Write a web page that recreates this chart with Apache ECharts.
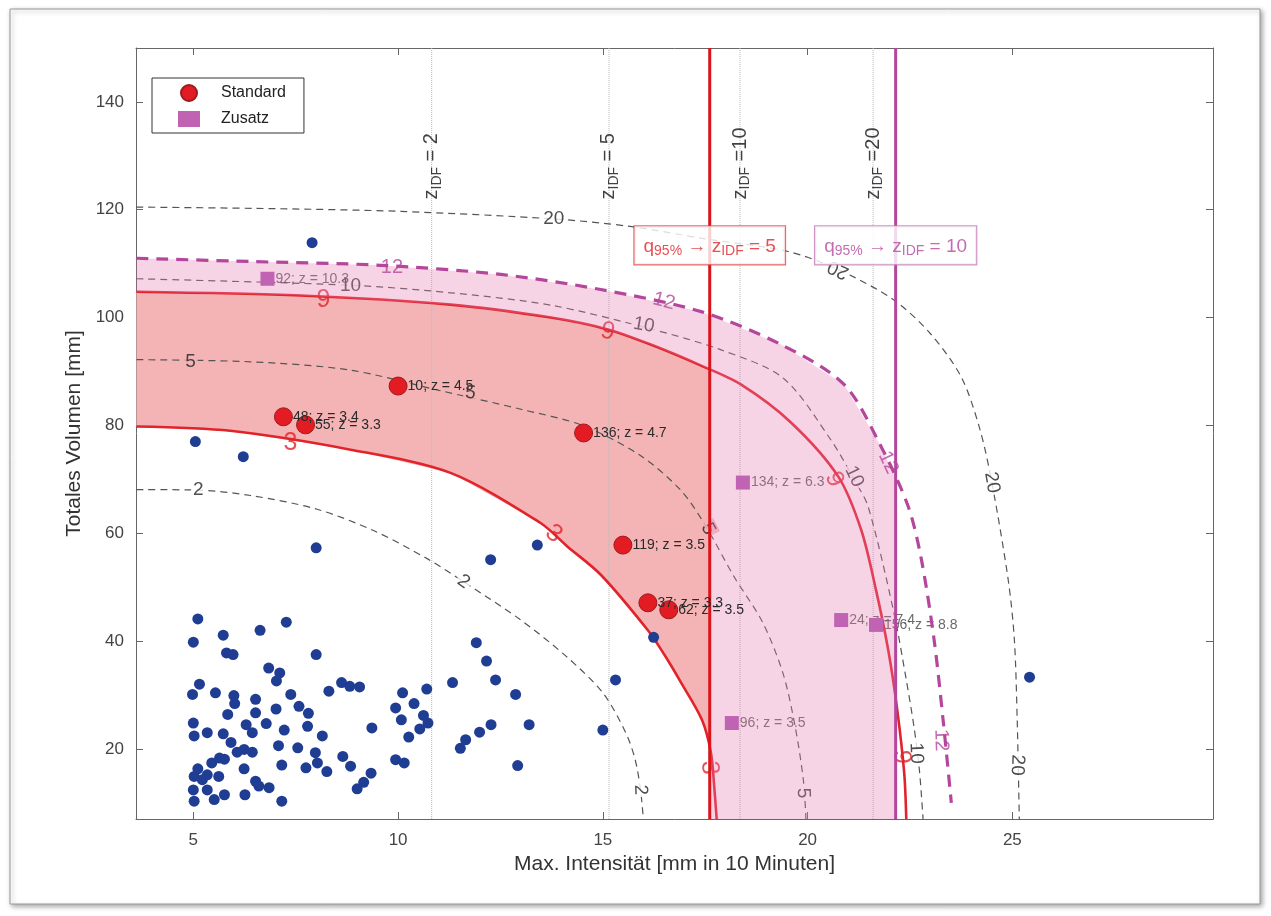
<!DOCTYPE html>
<html>
<head>
<meta charset="utf-8">
<script src="https://cdn.jsdelivr.net/npm/echarts@6/dist/echarts.min.js"></script>
<style>
  html, body { margin: 0; background: #fff; }
  #chart { width: 1271px; height: 916px; }
</style>
</head>
<body>
<div id="chart"></div>
<script>
// axis range
const xMin = 3.6, xMax = 29.9, yMin = 7, yMax = 150;

// background events (blue dots)
const blueX = [5.11,5.0,5.73,6.63,7.27,5.81,5.97,8.0,6.84,7.11,
  7.03,5.15,4.98,5.54,5.99,6.01,6.52,7.38,8.31,8.62,
  8.82,9.06,10.11,10.70,11.33,11.91,12.16,12.38,12.87,15.31,
  16.24,5.84,6.52,7.02,7.58,7.81,5.0,5.02,5.34,5.73,
  5.92,6.29,6.44,6.78,7.22,7.79,8.15,9.36,9.94,10.08,
  10.39,10.62,10.73,10.53,10.26,7.08,7.55,6.24,5.76,6.44,
  7.98,8.65,8.03,8.26,7.75,7.16,6.24,8.84,9.94,10.15,
  11.52,11.65,11.99,12.27,13.20,15.0,12.92,9.34,9.16,9.0,
  5.11,5.02,5.22,5.0,5.34,5.51,5.02,5.76,6.26,6.52,
  6.60,6.85,7.16,5.45,5.62,5.34,5.64,6.07,7.9,5.05,
  6.22,8.0,12.26,13.4,25.42];
const blueY = [44.1,39.8,41.1,42.0,43.5,37.8,37.5,37.5,35.0,34.1,
  32.6,32.0,30.1,30.4,29.9,28.4,29.2,30.1,30.7,32.3,
  31.6,31.5,30.4,31.1,32.3,39.7,36.3,32.8,30.1,32.8,
  40.7,26.4,26.7,27.4,27.9,26.6,24.8,22.4,23.0,22.8,
  21.2,24.5,23.0,24.7,23.5,24.2,22.4,23.9,27.6,25.4,
  28.4,26.2,24.8,23.7,22.2,20.6,20.2,19.9,18.1,19.4,
  19.3,18.6,17.4,15.8,16.5,17.0,16.3,16.8,18.0,17.4,
  20.1,21.7,23.1,24.5,24.5,23.5,16.9,15.5,13.8,12.6,
  16.3,14.9,14.3,12.4,12.4,10.6,10.3,11.5,11.5,14.0,
  13.1,12.8,10.3,17.4,14.9,15.2,18.3,19.4,113.9,77.0,
  74.2,57.3,55.1,57.8,33.3];

// Standard events
const stdX = [7.2, 7.74, 10.0, 14.53, 15.49, 16.1, 16.61];
const stdY = [81.6, 80.1, 87.3, 78.6, 57.8, 47.1, 45.8];
const stdLbl = ['48; z = 3.4', '55; z = 3.3', '10; z = 4.5', '136; z = 4.7', '119; z = 3.5', '37; z = 3.3', '62; z = 3.5'];

// Zusatz events
const zusX = [6.81, 18.42, 18.15, 20.82, 21.67];
const zusY = [107.2, 69.4, 24.8, 43.9, 43.0];
const zusLbl = ['92; z = 10.3', '134; z = 6.3', '96; z = 3.5', '24; z = 7.4', '156; z = 8.8'];

// iso lines (gray dashed)
const c2X = [3.61, 5.1, 6.4, 8.0, 9.4, 10.73, 11.6, 12.98, 14.1, 15.0, 15.56, 15.79, 15.92, 15.99];
const c2Y = [68.1, 68.0, 67.0, 64.5, 60.5, 55.2, 51.0, 44.0, 37.2, 30.4, 23.0, 18.0, 12.4, 7.0];
const c5X = [3.61, 6.4, 8.8, 11.0, 13.0, 14.5, 15.9, 16.9, 17.5, 18.2, 18.9, 19.4, 19.7, 19.9, 19.96];
const c5Y = [92.2, 91.8, 90.3, 86.5, 83.0, 80.0, 74.5, 68.0, 61.5, 52.0, 43.5, 34.0, 24.0, 14.0, 7.0];
const c10X = [3.61, 8.84, 11.28, 13.73, 16.17, 17.89, 19.4, 20.57, 21.14, 21.48, 22.11, 22.41, 22.60, 22.73, 22.82];
const c10Y = [107.2, 106.0, 104.6, 102.3, 97.9, 94.0, 88.8, 77.3, 69.9, 64.9, 45.2, 32.8, 24.0, 16.1, 7.0];
const c20X = [3.61, 7.0, 10.05, 13.8, 15.67, 17.5, 19.5, 20.75, 22.1, 23.0, 23.75, 24.2, 24.5, 24.9, 25.05, 25.12, 25.17];
const c20Y = [120.5, 120.2, 119.7, 118.3, 116.9, 114.6, 112.3, 108.9, 103.3, 97.0, 89.0, 79.5, 69.4, 51.3, 40.2, 25.0, 7.0];

// Standard bounds (red)
const c3X = [3.61, 5.9, 8.84, 11.28, 13.48, 14.14, 14.95, 16.1, 16.5, 16.91, 17.42, 17.64, 17.72, 17.78];
const c3Y = [79.8, 79.0, 75.5, 71.2, 61.9, 57.5, 52.3, 42.0, 37.5, 32.3, 25.4, 19.3, 13.0, 7.0];
const c9X = [3.61, 7.62, 11.28, 13.73, 15.12, 16.17, 17.40, 18.37, 19.6, 20.75, 21.31, 21.67, 21.97, 22.19, 22.36, 22.41];
const c9Y = [104.8, 104.1, 102.4, 100.0, 97.8, 95.0, 91.1, 87.6, 80.5, 70.5, 60.6, 49.5, 38.3, 27.2, 15.5, 7.0];
// Zusatz bound (purple dashed)
const c12X = [3.61, 6.39, 9.57, 12.51, 14.95, 17.40, 19.35, 20.89, 21.80, 22.46, 22.78, 23.09, 23.31, 23.51];
const c12Y = [111.0, 110.4, 109.7, 108.0, 105.2, 101.1, 95.0, 87.6, 76.0, 64.9, 55.1, 40.2, 25.3, 10.0];

// contour labels
const lblX = [13.8, 20.75, 24.5, 25.12, 8.84, 16.0, 21.14, 22.65, 4.93, 11.77, 17.57, 19.89, 5.12, 11.6, 15.92,
  7.37, 13.8, 17.6, 8.18, 15.12, 20.65, 22.29, 9.85, 16.49, 21.97, 23.26];
const lblY = [118.3, 108.9, 69.4, 17.0, 105.9, 98.6, 70.5, 19.2, 91.8, 86.0, 60.8, 11.8, 68.0, 51.0, 12.4,
  76.8, 59.9, 16.5, 103.3, 97.4, 70.0, 18.5, 109.2, 103.0, 73.1, 21.6];
const lblTxt = ['20','20','20','20','10','10','10','10','5','5','5','5','2','2','2',
  '3','3','3','9','9','9','9','12','12','12','12'];
const lblRot = [0,155,-80,-92, 0,-10,-65,-88, 0,-5,-62,-88, 0,-35,-88,
  0,-38,-88, 0,-12,-65,-88, 0,-15,-65,-88];

// vertical reference lines
const zLineX = [10.82, 15.15, 18.35, 21.6];
const zLineTxt = [' = 2', ' = 5', ' =10', ' =20'];
const redX = 17.61, purpleX = 22.15;
const boxY = 113.4, zTxtY = 121.9;

const FONT = '"Liberation Sans", Arial, Helvetica, sans-serif';
const RED = '#e1232a', PURPLE = '#b4479c', GRAY = '#555';
const RED_FILL = '#f4b4b6', PINK = 'rgba(230,120,180,0.33)';

function zip(xs, ys) { return xs.map((x, i) => [x, ys[i]]); }

// keep the part of a polygon with x <= xc
function clipX(pts, xc) {
  const out = [];
  for (let i = 0; i < pts.length; i++) {
    const a = pts[i], b = pts[(i + 1) % pts.length];
    const ain = a[0] <= xc, bin = b[0] <= xc;
    if (ain) out.push(a);
    if (ain !== bin) {
      const t = (xc - a[0]) / (b[0] - a[0]);
      out.push([xc, a[1] + t * (b[1] - a[1])]);
    }
  }
  return out;
}
function cutLeft(pts, xc) {
  const out = [];
  for (let i = 0; i < pts.length; i++) {
    if (pts[i][0] <= xc) { out.push(pts[i]); continue; }
    const a = pts[i - 1], b = pts[i];
    const t = (xc - a[0]) / (b[0] - a[0]);
    out.push([xc, a[1] + t * (b[1] - a[1])]);
    break;
  }
  return out;
}
function inside(p, poly) {
  let c = false;
  for (let i = 0, j = poly.length - 1; i < poly.length; j = i++) {
    const a = poly[i], b = poly[j];
    if ((a[1] > p[1]) !== (b[1] > p[1]) && p[0] < (b[0] - a[0]) * (p[1] - a[1]) / (b[1] - a[1]) + a[0]) c = !c;
  }
  return c;
}

const c3 = zip(c3X, c3Y), c9 = zip(c9X, c9Y), c12 = zip(c12X, c12Y);
const redPoly = clipX(c9.concat(c3.slice().reverse()), redX);
const pinkPoly = clipX(
  c12.concat([[c12X[c12X.length - 1], yMin], [redX, yMin]], cutLeft(c9, redX).reverse()),
  purpleX);

function polySeries(poly, color, z) {
  return {
    type: 'custom', coordinateSystem: 'cartesian2d', clip: true, silent: true, z: z,
    data: [[xMin, yMin]],
    renderItem: function (params, api) {
      return { type: 'polygon', shape: { points: poly.map(p => api.coord(p)) }, style: { fill: color } };
    }
  };
}
function curve(xs, ys, color, width, type, z) {
  return {
    type: 'line', data: zip(xs, ys), smooth: 0.3, symbol: 'none', silent: true, z: z,
    lineStyle: { color: color, width: width, type: type }
  };
}
function vline(x, color, width, type, z) {
  return {
    type: 'line', data: [[x, yMin], [x, yMax]], symbol: 'none', silent: true, z: z,
    lineStyle: { color: color, width: width, type: type }
  };
}

// contour label items
function lblSeries(from, to, color, size, z, useBg) {
  const data = [];
  for (let i = from; i < to; i++) {
    const p = [lblX[i], lblY[i]];
    const lab = { rotate: lblRot[i] };
    if (useBg) lab.backgroundColor = inside(p, redPoly) ? RED_FILL : '#fff';
    data.push({ value: p, name: lblTxt[i], label: lab });
  }
  return {
    type: 'scatter', data: data, symbolSize: 0, silent: true, z: z,
    label: {
      show: true, position: 'inside', formatter: '{b}', color: color, fontSize: size,
      fontFamily: FONT, padding: [0, 2]
    }
  };
}

const zData = zLineX.map((x, i) => ({ value: [x, zTxtY], name: zLineTxt[i] }));
const subRich = {
  a: { fontSize: 20, fontFamily: FONT, color: '#111', lineHeight: 22 },
  b: { fontSize: 14, fontFamily: FONT, color: '#111', padding: [10, 0, 0, 0], lineHeight: 14 }
};
function boxRich(color) {
  return {
    a: { fontSize: 19, fontFamily: FONT, color: color, lineHeight: 22 },
    b: { fontSize: 14, fontFamily: FONT, color: color, padding: [10, 0, 0, 0], lineHeight: 14 }
  };
}

const option = {
  animation: false,
  backgroundColor: '#fff',
  graphic: [{
    type: 'rect', z: -10, silent: true,
    shape: { x: 10, y: 9, width: 1250, height: 895 },
    style: { fill: '#fff', stroke: '#9a9a9a', lineWidth: 1, shadowBlur: 5, shadowOffsetX: 2, shadowOffsetY: 2, shadowColor: 'rgba(0,0,0,0.35)' }
  }],
  grid: { left: 136, right: 58, top: 48, bottom: 97, outerBoundsMode: 'none' },
  legend: {
    data: ['Standard', 'Zusatz'], orient: 'vertical', left: 152, top: 78,
    backgroundColor: '#fff', borderColor: '#333', borderWidth: 1, borderRadius: 0,
    padding: [6, 18, 6, 26], itemWidth: 22, itemHeight: 16, itemGap: 9,
    textStyle: { fontSize: 16, fontFamily: FONT, color: '#222', padding: [0, 0, 0, 16] }
  },
  xAxis: [{
    type: 'value', min: xMin, max: xMax, position: 'bottom',
    name: 'Max. Intensität [mm in 10 Minuten]', nameLocation: 'middle', nameGap: 35,
    nameTextStyle: { fontSize: 21, fontFamily: FONT, color: '#333' },
    axisLine: { lineStyle: { color: '#666' } },
    axisTick: { inside: true, length: 7, lineStyle: { color: '#666' } },
    axisLabel: { fontSize: 17, fontFamily: FONT, color: '#444', margin: 13, showMinLabel: false, showMaxLabel: false },
    splitLine: { show: false }
  }, {
    type: 'value', min: xMin, max: xMax, position: 'top',
    axisLine: { lineStyle: { color: '#666' } },
    axisTick: { inside: true, length: 7, lineStyle: { color: '#666' } },
    axisLabel: { show: false }, splitLine: { show: false }
  }],
  yAxis: [{
    type: 'value', min: yMin, max: yMax, splitNumber: 7, position: 'left',
    name: 'Totales Volumen [mm]', nameLocation: 'middle', nameGap: 44,
    nameTextStyle: { fontSize: 21, fontFamily: FONT, color: '#333' },
    axisLine: { show: true, lineStyle: { color: '#666' } },
    axisTick: { show: true, inside: true, length: 7, lineStyle: { color: '#666' } },
    axisLabel: { fontSize: 17, fontFamily: FONT, color: '#444', margin: 12, showMinLabel: false, showMaxLabel: false },
    splitLine: { show: false }
  }, {
    type: 'value', min: yMin, max: yMax, splitNumber: 7, position: 'right',
    axisLine: { show: true, lineStyle: { color: '#666' } },
    axisTick: { show: true, inside: true, length: 7, lineStyle: { color: '#666' } },
    axisLabel: { show: false }, splitLine: { show: false }
  }],
  series: [
    polySeries(redPoly, RED_FILL, 1),
    vline(zLineX[0], '#b8b8b8', 1, 'dotted', 2),
    vline(zLineX[1], '#b8b8b8', 1, 'dotted', 2),
    vline(zLineX[2], '#b8b8b8', 1, 'dotted', 2),
    vline(zLineX[3], '#b8b8b8', 1, 'dotted', 2),
    curve(c2X, c2Y, GRAY, 1.2, [7, 5], 2),
    curve(c5X, c5Y, GRAY, 1.2, [7, 5], 2),
    curve(c10X, c10Y, GRAY, 1.2, [7, 5], 2),
    curve(c20X, c20Y, GRAY, 1.2, [7, 5], 2),
    lblSeries(0, 15, '#222', 19, 2, true),
    curve(c3X, c3Y, RED, 2.6, 'solid', 3),
    curve(c9X, c9Y, RED, 2.6, 'solid', 3),
    lblSeries(15, 22, RED, 25, 3, false),
    {
      type: 'scatter', data: zip(zusX, zusY), symbolSize: 0, silent: true, z: 3,
      label: {
        show: true, position: 'right', distance: 8, fontSize: 14, fontFamily: FONT, color: '#444',
        formatter: p => zusLbl[p.dataIndex]
      }
    },
    polySeries(pinkPoly, PINK, 4),
    vline(redX, '#d9141b', 3, 'solid', 5),
    vline(purpleX, PURPLE, 3, 'solid', 5),
    curve(c12X, c12Y, PURPLE, 3.2, [12, 8], 5),
    lblSeries(22, 26, PURPLE, 20, 5, false),
    {
      type: 'scatter', data: zData, symbolSize: 0, silent: true, z: 5,
      label: {
        show: true, position: 'inside', rotate: 90, align: 'left', verticalAlign: 'middle',
        formatter: p => '{a|z}{b|IDF}{a|' + p.name + '}', rich: subRich
      }
    },
    {
      type: 'scatter', data: zip(blueX, blueY), symbolSize: 11, z: 6,
      itemStyle: { color: '#1f3e93', opacity: 1 }
    },
    {
      name: 'Standard', type: 'scatter', data: zip(stdX, stdY), symbol: 'circle', symbolSize: 18, z: 6,
      itemStyle: { color: '#e31c24', borderColor: '#9c1b1b', borderWidth: 1, opacity: 1 },
      label: {
        show: true, position: 'right', distance: 0, fontSize: 14, fontFamily: FONT, color: '#2a2a2a',
        formatter: p => stdLbl[p.dataIndex]
      }
    },
    {
      name: 'Zusatz', type: 'scatter', data: zip(zusX, zusY), symbol: 'rect', symbolSize: 14, z: 6,
      itemStyle: { color: '#c063b3', opacity: 1 }
    },
    {
      type: 'scatter', symbolSize: 0, silent: true, z: 7,
      data: [{ value: [redX, boxY], name: '5' }],
      label: {
        show: true, position: 'inside', align: 'center', verticalAlign: 'middle',
        backgroundColor: '#fff', borderColor: '#e0454a', borderWidth: 1.2, padding: [9, 9, 7, 9],
        formatter: p => '{a|q}{b|95%}{a| → z}{b|IDF}{a| = ' + p.name + '}',
        rich: boxRich(RED)
      }
    },
    {
      type: 'scatter', symbolSize: 0, silent: true, z: 7,
      data: [{ value: [purpleX, boxY], name: '10' }],
      label: {
        show: true, position: 'inside', align: 'center', verticalAlign: 'middle',
        backgroundColor: '#fff', borderColor: '#c47ab4', borderWidth: 1.2, padding: [9, 9, 7, 9],
        formatter: p => '{a|q}{b|95%}{a| → z}{b|IDF}{a| = ' + p.name + '}',
        rich: boxRich(PURPLE)
      }
    }
  ]
};

const chart = echarts.init(document.getElementById('chart'));
chart.setOption(option);
</script>
</body>
</html>
